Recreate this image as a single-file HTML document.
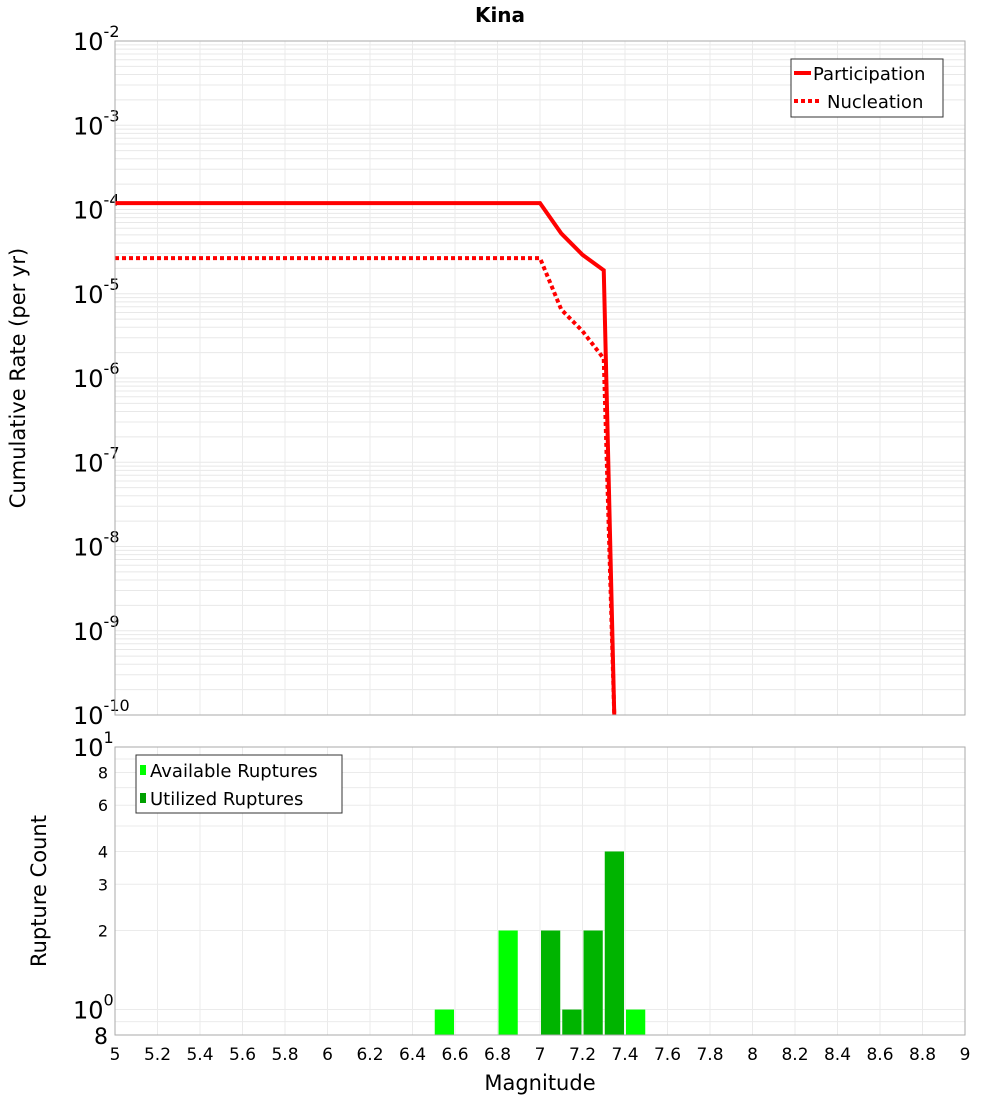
<!DOCTYPE html>
<html><head><meta charset="utf-8"><style>
body{margin:0;background:#fff;font-family:"Liberation Sans","DejaVu Sans",sans-serif}
svg text{font-family:"DejaVu Sans","Liberation Sans",sans-serif}
</style></head><body>
<svg id="c" width="1000" height="1100" xmlns="http://www.w3.org/2000/svg">
<text x="500" y="22" text-anchor="middle" font-size="20" font-weight="bold">Kina</text>
<text transform="translate(25,378) rotate(-90)" text-anchor="middle" font-size="21">Cumulative Rate (per yr)</text>
<text transform="translate(46,891) rotate(-90)" text-anchor="middle" font-size="21">Rupture Count</text>
<text x="540" y="1090" text-anchor="middle" font-size="21">Magnitude</text>
<g id="g"></g>
</svg>
<script>
const partMag=[5,7.0,7.1,7.2,7.3,7.35];
const partRate=[1.19e-4,1.19e-4,5.2e-5,2.9e-5,1.9e-5,1e-11];
const nuclMag=[5,7.0,7.1,7.2,7.3,7.35];
const nuclRate=[2.65e-5,2.65e-5,6.5e-6,3.6e-6,1.7e-6,1e-11];
const availMag=[6.55,6.85,7.45];
const availCount=[1,2,1];
const utilMag=[7.05,7.15,7.25,7.35];
const utilCount=[2,1,2,4];
const xTicks=[5,5.2,5.4,5.6,5.8,6,6.2,6.4,6.6,6.8,7,7.2,7.4,7.6,7.8,8,8.2,8.4,8.6,8.8,9];
const topExps=[-2,-3,-4,-5,-6,-7,-8,-9,-10];
const botTicks=[8,6,4,3,2];

const NS='http://www.w3.org/2000/svg',g=document.getElementById('g');
const L=115,R=965,T1=41,B1=715,T2=747,B2=1035;
const X=m=>L+(m-5)/4*(R-L);
const Y1=v=>{let l=Math.log10(v);if(l<-10.05)l=-10.05;return T1+(-2-l)*(B1-T1)/8;};
const lmin=Math.log10(0.8);
const Y2=v=>B2-(Math.log10(v)-lmin)/(1-lmin)*(B2-T2);
function el(t,a,p){const e=document.createElementNS(NS,t);for(const k in a)e.setAttribute(k,a[k]);(p||g).appendChild(e);return e;}
// backgrounds
let r=el('rect',{x:L,y:T1,width:R-L,height:B1-T1,fill:'#fff',stroke:'none'});

r=el('rect',{x:L,y:T2,width:R-L,height:B2-T2,fill:'#fff',stroke:'none'});

// grids
for(let e=-10;e<-2;e++)for(let k=1;k<10;k++){const y=Y1(k*Math.pow(10,e));
 const l=el('line',{x1:L,x2:R,y1:y,y2:y,stroke:'#e8e8e8','stroke-width':1});
 }
[0.8,0.9,1,2,3,4,5,6,7,8,9].forEach(v=>{const y=Y2(v);
 const l=el('line',{x1:L,x2:R,y1:y,y2:y,stroke:'#ebebeb','stroke-width':1});
 });
xTicks.forEach(m=>{const x=X(m);
 let l=el('line',{x1:x,x2:x,y1:T1,y2:B1,stroke:'#ebebeb','stroke-width':1});
 
 l=el('line',{x1:x,x2:x,y1:T2,y2:B2,stroke:'#ebebeb','stroke-width':1});
 
 const t=el('text',{x:x,y:1060,'text-anchor':'middle','font-size':17});t.textContent=String(m);
 });
// top y ticks
topExps.forEach(e=>{const y=Y1(Math.pow(10,e));
 const t=el('text',{x:73,y:y+9,'font-size':24});
 t.textContent='10';
 const s=el('tspan',{dy:-13,'font-size':16},t);s.textContent=String(e);
 });
// bottom y ticks
botTicks.forEach(v=>{const y=Y2(v);
 const t=el('text',{x:108,y:y+6,'text-anchor':'end','font-size':16});t.textContent=String(v);
 });
[[1,'0'],[10,'1']].forEach(([v,e])=>{const y=Y2(v);
 const t=el('text',{x:73,y:y+9,'font-size':24});t.textContent='10';
 const s=el('tspan',{dy:-13,'font-size':16},t);s.textContent=e;
 });
let t8=el('text',{x:108,y:B2+9,'text-anchor':'end','font-size':22});t8.textContent='8';

// lines
const cp=document.createElementNS(NS,'clipPath');cp.setAttribute('id','cl');g.appendChild(cp);
el('rect',{x:L,y:T1,width:R-L,height:B1-T1},cp);
let p=el('polyline',{points:partMag.map((m,i)=>X(m)+','+Y1(partRate[i])).join(' '),fill:'none',stroke:'#ff0000','stroke-width':4,'clip-path':'url(#cl)'});

p=el('polyline',{points:nuclMag.map((m,i)=>X(m)+','+Y1(nuclRate[i])).join(' '),fill:'none',stroke:'#ff0000','stroke-width':4,'stroke-dasharray':'4,3','clip-path':'url(#cl)'});

// bars
const bw=(X(5.1)-X(5))-2;
availMag.forEach((m,i)=>{const y=Y2(availCount[i]);
 const b=el('rect',{x:X(m)-bw/2,y:y,width:bw,height:B2-y,fill:'#00ff00'});
 });
utilMag.forEach((m,i)=>{const y=Y2(utilCount[i]);
 const b=el('rect',{x:X(m)-bw/2,y:y,width:bw,height:B2-y,fill:'#00b400'});
 });
// borders
r=el('rect',{x:L,y:T1,width:R-L,height:B1-T1,fill:'none',stroke:'#aaa'});

r=el('rect',{x:L,y:T2,width:R-L,height:B2-T2,fill:'none',stroke:'#aaa'});

// top legend
let lg=el('g',{});
el('rect',{x:791,y:59,width:152,height:58,fill:'#fff',stroke:'#333'},lg);
el('line',{x1:794,x2:811,y1:73,y2:73,stroke:'#f00','stroke-width':4},lg);
el('line',{x1:794,x2:822,y1:101,y2:101,stroke:'#f00','stroke-width':4,'stroke-dasharray':'4,3'},lg);
let lt=el('text',{x:813,y:80,'font-size':18},lg);lt.textContent='Participation';

lt=el('text',{x:827,y:108,'font-size':18},lg);lt.textContent='Nucleation';

// bottom legend
lg=el('g',{});
el('rect',{x:136,y:755,width:206,height:58,fill:'#fff',stroke:'#333'},lg);
el('rect',{x:140,y:765,width:6,height:10,fill:'#00ff00'},lg);
el('rect',{x:140,y:793,width:6,height:10,fill:'#00a000'},lg);
lt=el('text',{x:150,y:777,'font-size':18},lg);lt.textContent='Available Ruptures';

lt=el('text',{x:150,y:805,'font-size':18},lg);lt.textContent='Utilized Ruptures';

</script>
</body></html>
